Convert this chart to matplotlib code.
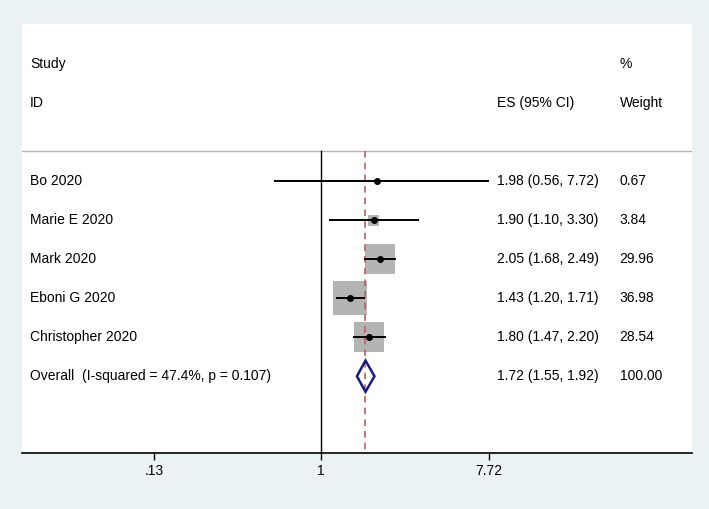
import numpy as np
import matplotlib.pyplot as plt
from matplotlib.patches import Polygon

plt.rcParams['font.family'] = ['Liberation Sans', 'DejaVu Sans']

studies = ['Bo 2020', 'Marie E 2020', 'Mark 2020', 'Eboni G 2020', 'Christopher 2020']
es = [1.98, 1.90, 2.05, 1.43, 1.80]
lo = [0.56, 1.10, 1.68, 1.20, 1.47]
hi = [7.72, 3.30, 2.49, 1.71, 2.20]
weight = [0.67, 3.84, 29.96, 36.98, 28.54]

overall_label = 'Overall  (I-squared = 47.4%, p = 0.107)'
overall_es, overall_lo, overall_hi = 1.72, 1.55, 1.92
overall_weight = 100.00

xticks = [0.13, 1, 7.72]
xticklabels = ['.13', '1', '7.72']

bg = '#eaf2f3'
fig = plt.figure(figsize=(7.09, 5.09), dpi=100, facecolor=bg)
ax = fig.add_axes([22 / 709, 1 - 453 / 509, 670 / 709, 429 / 509])
ax.set_facecolor('white')
ax.set_xscale('log')
ax.set_xlim(0.026, 92.5)
ax.set_ylim(7.97, -3.03)

rows = np.arange(1, len(studies) + 1)
orow = len(studies) + 1
divider = 0.23

# reference lines
ax.plot([1, 1], [divider, 7.97], color='black', lw=1.0, zorder=2)
ax.plot([overall_es, overall_es], [divider, 7.97], color='#b46464', lw=1.2,
        ls=(0, (4, 3)), zorder=4)
ax.axhline(divider, color='#b4b4be', lw=1.0, zorder=1)

# weight boxes, side ~ sqrt(weight)
side_pt = 5.6 * np.sqrt(weight) * 0.72
ax.scatter(es, rows, s=side_pt ** 2, marker='s', color='#b4b4b4',
           edgecolors='none', zorder=3)
ax.hlines(rows, lo, hi, color='black', lw=1.4, zorder=5)
ax.plot(es, rows, 'o', color='black', ms=4, zorder=6)

dia = Polygon([(overall_lo, orow), (overall_es, orow - 0.4),
               (overall_hi, orow), (overall_es, orow + 0.4)],
              closed=True, facecolor='none', edgecolor='#1a1a80', lw=1.8, zorder=5)
ax.add_patch(dia)

# text columns
tr = ax.get_yaxis_transform()
fs = 10
c1, c2, c3 = 0.012, 0.709, 0.892
ax.text(c1, -2, 'Study', transform=tr, va='center', fontsize=fs)
ax.text(c1, -1, 'ID', transform=tr, va='center', fontsize=fs)
ax.text(c2, -1, 'ES (95% CI)', transform=tr, va='center', fontsize=fs)
ax.text(c3, -2, '%', transform=tr, va='center', fontsize=fs)
ax.text(c3, -1, 'Weight', transform=tr, va='center', fontsize=fs)

for r, name, e, l, h, w in zip(rows, studies, es, lo, hi, weight):
    ax.text(c1, r, name, transform=tr, va='center', fontsize=fs)
    ax.text(c2, r, f'{e:.2f} ({l:.2f}, {h:.2f})', transform=tr, va='center', fontsize=fs)
    ax.text(c3, r, f'{w:.2f}', transform=tr, va='center', fontsize=fs)

ax.text(c1, orow, overall_label, transform=tr, va='center', fontsize=fs)
ax.text(c2, orow, f'{overall_es:.2f} ({overall_lo:.2f}, {overall_hi:.2f})',
        transform=tr, va='center', fontsize=fs)
ax.text(c3, orow, f'{overall_weight:.2f}', transform=tr, va='center', fontsize=fs)

for s in ['top', 'left', 'right']:
    ax.spines[s].set_visible(False)
ax.spines['bottom'].set_linewidth(1.2)
ax.set_yticks([])
ax.set_xticks(xticks)
ax.set_xticklabels(xticklabels, fontsize=fs)
ax.minorticks_off()
ax.tick_params(axis='x', length=5, width=1, pad=3)

fig.savefig('out.png', dpi=100, facecolor=bg)
